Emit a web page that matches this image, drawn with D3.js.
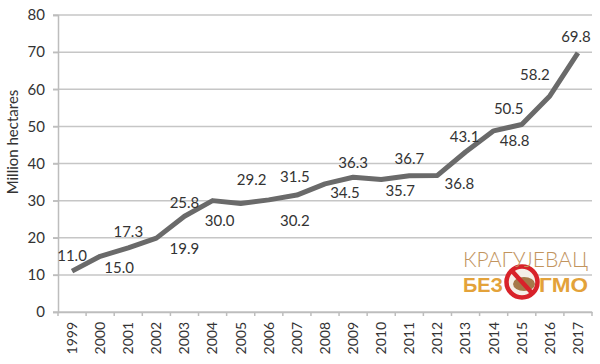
<!DOCTYPE html>
<html><head><meta charset="utf-8">
<script src="https://cdn.jsdelivr.net/npm/d3@7"></script>
<style>body{margin:0;background:#fff}svg{display:block}</style>
</head><body>
<svg id="chart" width="600" height="364"></svg>
<script>
// ---- DATA ----
const years = ["1999","2000","2001","2002","2003","2004","2005","2006","2007","2008","2009","2010","2011","2012","2013","2014","2015","2016","2017"];
const values = [11.0,15.0,17.3,19.9,25.8,30.0,29.2,30.2,31.5,34.5,36.3,35.7,36.7,36.8,43.1,48.8,50.5,58.2,69.8];
const yTicks = [0,10,20,30,40,50,60,70,80];
const yTitle = "Million hectares";
const logoTop = "КРАГУЈЕВАЦ";
const logoLeft = "БЕЗ";
const logoRight = "ГМО";

// ---- LAYOUT (label placement relative to each point) ----
const labelOffsets = [[0,-16],[19,11],[0,-16],[28,10],[0,-14],[7,20],[11,-24],[26,21],[-2,-19],[20,9],[0,-15],[19,11],[0,-17],[22,8],[-1,-15],[21,10],[-13,-16],[-15,-21],[-2,-16]];

const font = "Lato, 'Open Sans', sans-serif";
const svg = d3.select("#chart");
const L = 58, R = 592, T = 15, B = 312;

const x = d3.scaleBand().domain(years).range([L, R]).padding(0);
const y = d3.scaleLinear().domain([0, 80]).range([B, T]);
const cx = d => x(d) + x.bandwidth() / 2;

// gridlines
svg.append("g").selectAll("line").data(yTicks).join("line")
  .attr("x1", L - 5).attr("x2", R)
  .attr("y1", d => y(d)).attr("y2", d => y(d))
  .attr("stroke", "#c6c6c6").attr("stroke-width", 1.5);

// y axis
const yAxis = svg.append("g").attr("transform", `translate(${L},0)`)
  .call(d3.axisLeft(y).tickValues(yTicks).tickSize(5).tickPadding(8).tickFormat(d3.format("d")));
yAxis.select(".domain").attr("stroke", "#bdbdbd").attr("stroke-width", 1.5);
yAxis.selectAll(".tick line").attr("stroke", "#bdbdbd").attr("stroke-width", 1.5);
yAxis.selectAll("text").attr("font-family", font).attr("font-size", 15).attr("fill", "#333");

// x axis
const xAxis = svg.append("g").attr("transform", `translate(0,${B})`)
  .call(d3.axisBottom(x).tickSize(0).tickPadding(0));
xAxis.select(".domain").attr("stroke", "#bdbdbd").attr("stroke-width", 1.5);
xAxis.selectAll("text")
  .attr("font-family", font).attr("font-size", 14).attr("fill", "#333")
  .attr("transform", "rotate(-90)")
  .attr("text-anchor", "end").attr("x", -10).attr("y", 0).attr("dy", "0.35em");
// boundary tick marks
const bounds = years.map(d => x(d)).concat([R]);
svg.append("g").selectAll("line").data(bounds).join("line")
  .attr("x1", d => d).attr("x2", d => d).attr("y1", B).attr("y2", B + 4)
  .attr("stroke", "#bdbdbd").attr("stroke-width", 1.5);

// y title
svg.append("text").attr("transform", "translate(18,142) rotate(-90)")
  .attr("text-anchor", "middle").attr("font-family", font).attr("font-size", 15)
  .attr("fill", "#333").text(yTitle);

// line
const line = d3.line().x((d, i) => cx(years[i])).y(d => y(d));
svg.append("path").datum(values).attr("d", line)
  .attr("fill", "none").attr("stroke", "#6a6a6a").attr("stroke-width", 5)
  .attr("stroke-linejoin", "round").attr("stroke-linecap", "butt");

// data labels
svg.append("g").selectAll("text").data(values).join("text")
  .attr("x", (d, i) => cx(years[i]) + labelOffsets[i][0])
  .attr("y", (d, i) => y(d) + labelOffsets[i][1] + 5.5)
  .attr("text-anchor", "middle").attr("font-family", font).attr("font-size", 15)
  .attr("fill", "#333").text(d => d3.format(".1f")(d));

// logo watermark
const logo = svg.append("g");
logo.append("circle").attr("cx", 522).attr("cy", 282).attr("r", 15).attr("fill", "#f4efe8");
logo.append("ellipse").attr("cx", 524).attr("cy", 284).attr("rx", 11).attr("ry", 7).attr("fill", "#a5794a");
logo.append("circle").attr("cx", 522).attr("cy", 282).attr("r", 15.5).attr("fill", "none")
  .attr("stroke", "#d8222a").attr("stroke-width", 4.5);
logo.append("line").attr("x1", 512).attr("y1", 271).attr("x2", 532).attr("y2", 293)
  .attr("stroke", "#d8222a").attr("stroke-width", 4.5);
logo.append("text").attr("x", 463).attr("y", 267).attr("font-family", font)
  .attr("font-size", 21).attr("font-weight", 300).attr("fill", "#c2945e")
  .attr("textLength", 125).attr("lengthAdjust", "spacingAndGlyphs").text(logoTop);
logo.append("text").attr("x", 463).attr("y", 292).attr("font-family", "'Liberation Sans', Arial, sans-serif")
  .attr("font-size", 20).attr("font-weight", 700).attr("fill", "#e3a23a")
  .attr("textLength", 40).attr("lengthAdjust", "spacingAndGlyphs").text(logoLeft);
logo.append("text").attr("x", 539).attr("y", 292).attr("font-family", "'Liberation Sans', Arial, sans-serif")
  .attr("font-size", 20).attr("font-weight", 700).attr("fill", "#e3a23a")
  .attr("textLength", 49).attr("lengthAdjust", "spacingAndGlyphs").text(logoRight);
</script>
</body></html>
